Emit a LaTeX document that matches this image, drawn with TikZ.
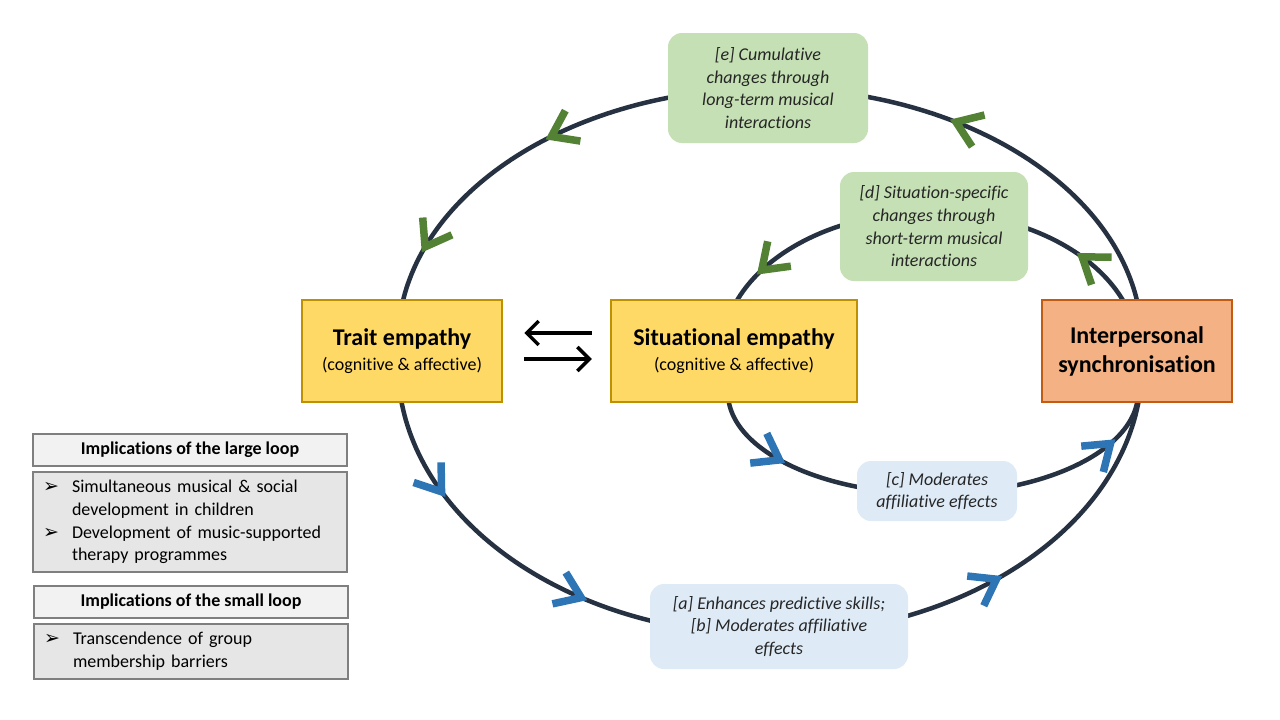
\documentclass[tikz,border=0pt]{standalone}
\usepackage{fontspec}
\setmainfont{Carlito}[Ligatures=NoCommon]
\newfontfamily\dvs{DejaVu Sans}
\usetikzlibrary{arrows.meta}
\definecolor{loopc}{HTML}{263142}
\definecolor{goldf}{HTML}{FFD966}
\definecolor{goldd}{HTML}{BF9000}
\definecolor{orf}{HTML}{F4B183}
\definecolor{ord}{HTML}{C55A11}
\definecolor{greenf}{HTML}{C5E0B4}
\definecolor{bluef}{HTML}{DEEBF7}
\definecolor{chg}{HTML}{548235}
\definecolor{chb}{HTML}{2E75B6}
\definecolor{hdrf}{HTML}{F2F2F2}
\definecolor{contf}{HTML}{E7E6E6}
\definecolor{grayd}{HTML}{7F7F7F}
\definecolor{txt}{HTML}{262626}
\begin{document}
\begin{tikzpicture}[x=1pt,y=-1pt,
  loopline/.style={draw=loopc, line width=4.5pt},
  chev/.style={line width=7.5pt, miter limit=10},
  bigbox/.style={draw, line width=2.5pt, align=center, inner sep=0pt, text=black},
  lbl/.style={rounded corners=14pt, align=center, inner sep=0pt, text=txt,
    font=\fontsize{18}{22.7}\selectfont\itshape},
  hdr/.style={draw=grayd, fill=hdrf, line width=2pt, minimum width=314pt, minimum height=32pt,
    inner sep=0pt, font=\fontsize{18}{22}\selectfont\bfseries},
  cont/.style={draw=grayd, fill=contf, line width=2pt, minimum width=314pt, text width=294pt,
    inner xsep=10pt, inner ysep=0pt, align=left, font=\fontsize{18}{22.7}\selectfont},
  dbl/.style={line width=3.5pt, -{Straight Barb[length=12pt, width=24pt]}},
 ]
\useasboundingbox[fill=white] (0,0) rectangle (1280,720);

% large loop
\draw[loopline] plot[domain=0:180, samples=150] ({770+372*cos(\x)},{342-254*sin(\x)})
  -- plot[domain=180:360, samples=150] ({770+372*cos(\x)},{365-270*sin(\x)}) -- cycle;
% small loop
\draw[loopline] plot[domain=0:180, samples=120] ({930+208*cos(\x)},{353-141*sin(\x)})
  -- plot[domain=180:360, samples=120] ({933+205*cos(\x)},{393-101*sin(\x)}) -- cycle;

% chevrons
\foreach \cx/\cy/\a/\b/\t/\col in {770/342/372/254/60/chg, 770/342/372/254/126/chg,
  770/342/372/254/158/chg, 770/365/372/270/208/chb, 770/365/372/270/239.5/chb,
  770/365/372/270/307.5/chb, 930/353/208/141/144/chg, 930/353/208/141/43/chg,
  933/393/205/101/221.5/chb, 933/393/205/101/330/chb}
{
  \pgfmathsetmacro\px{\cx+\a*cos(\t)}
  \pgfmathsetmacro\py{\cy-\b*sin(\t)}
  \pgfmathsetmacro\ang{atan2(\b*cos(\t),-\a*sin(\t))}
  \draw[chev, draw=\col, shift={(\px,\py)}, rotate=\ang] (-24,17) -- (0,0) -- (-24,-17);
}

% main boxes
\node[bigbox, fill=goldf, draw=goldd, minimum width=200pt, minimum height=102pt,
  font=\fontsize{18}{25}\selectfont] (trait) at (402,351)
  {{\fontsize{24}{25}\selectfont\bfseries Trait empathy}\\(cognitive \& affective)};
\node[bigbox, fill=goldf, draw=goldd, minimum width=246pt, minimum height=102pt,
  font=\fontsize{18}{25}\selectfont] (sit) at (734,351)
  {{\fontsize{24}{25}\selectfont\bfseries Situational empathy}\\(cognitive \& affective)};
\node[bigbox, fill=orf, draw=ord, minimum width=190pt, minimum height=102pt,
  font=\fontsize{24}{29}\selectfont\bfseries] (sync) at (1137,351)
  {Interpersonal\\synchronisation};

% double arrows
\draw[dbl, shorten <=18pt, shorten >=21pt] ([yshift=18pt]sit.west) -- ([yshift=18pt]trait.east);
\draw[dbl, shorten <=21pt, shorten >=18pt] ([yshift=-8pt]trait.east) -- ([yshift=-8pt]sit.west);

% labels
\node[lbl, fill=greenf, minimum width=200pt, minimum height=110pt] (e) at (768,88)
  {[e] Cumulative\\changes through\\long-term musical\\interactions};
\node[lbl, fill=greenf, minimum width=188pt, minimum height=109pt] (d) at (934,226.5)
  {[d] Situation-specific\\changes through\\short-term musical\\interactions};
\node[lbl, fill=bluef, minimum width=160pt, minimum height=60pt] (c) at (937,491)
  {[c] Moderates\\affiliative effects};
\node[lbl, fill=bluef, minimum width=258pt, minimum height=85pt] (ab) at (779,626.5)
  {[a] Enhances predictive skills;\\{}[b] Moderates affiliative\\effects};

% implications
\node[hdr] (h1) at (190,450) {Implications of the large loop};
\node[cont, minimum height=100pt] (c1) at (190,522)
  {\makebox[29pt][l]{\dvs\fontsize{19}{19}\selectfont ➢}Simultaneous musical \& social\\
   \hspace*{29pt}development in children\\
   \makebox[29pt][l]{\dvs\fontsize{19}{19}\selectfont ➢}Development of music-supported\\
   \hspace*{29pt}therapy programmes};
\node[hdr] (h2) at (191,602) {Implications of the small loop};
\node[cont, minimum height=55pt] (c2) at (191,651.5)
  {\makebox[29pt][l]{\dvs\fontsize{19}{19}\selectfont ➢}Transcendence of group\\
   \hspace*{29pt}membership barriers};
\end{tikzpicture}
\end{document}
